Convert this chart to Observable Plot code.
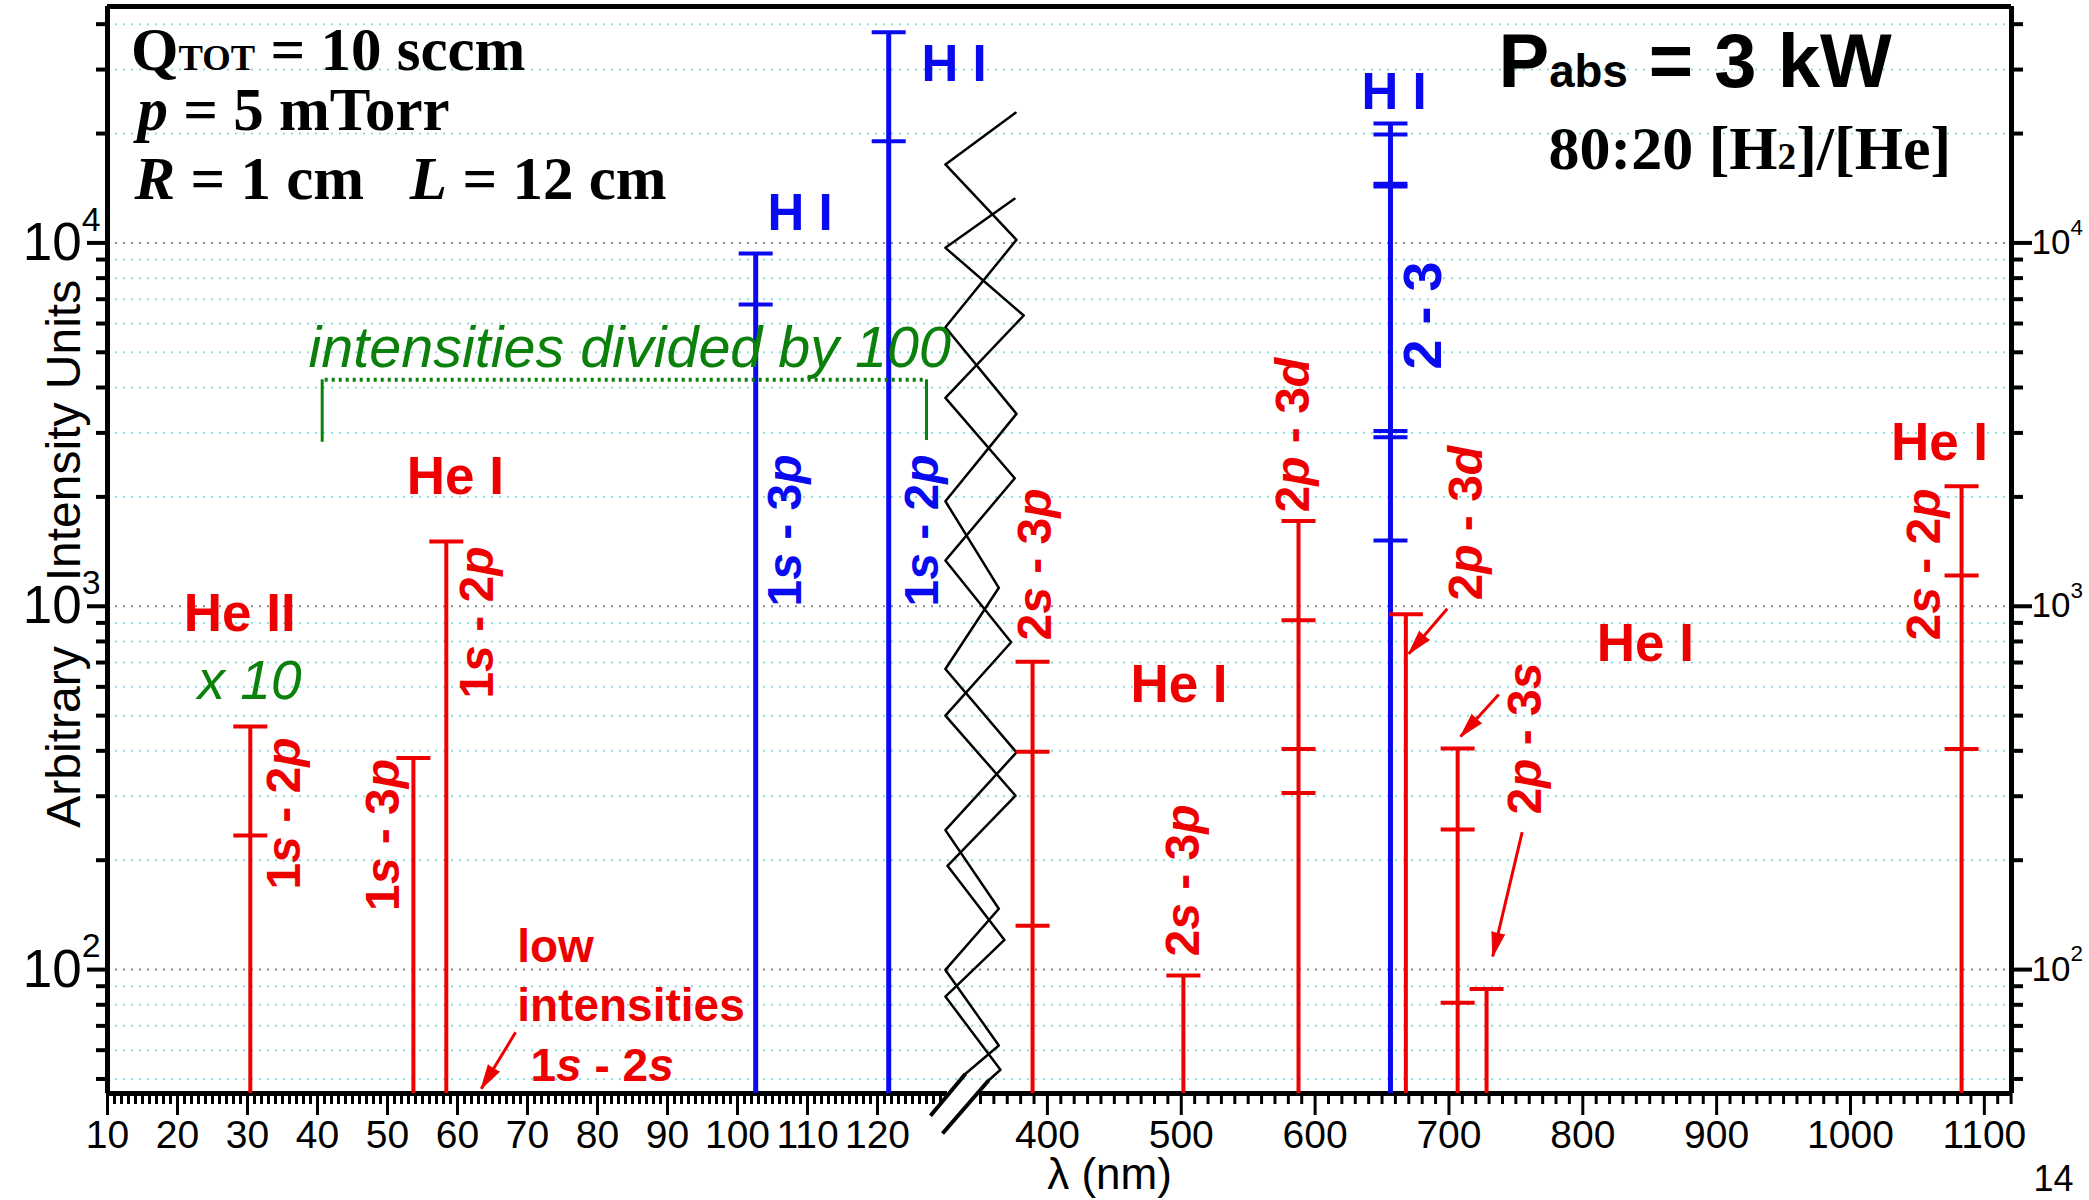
<!DOCTYPE html>
<html><head><meta charset="utf-8">
<script src="https://cdn.jsdelivr.net/npm/d3@7"></script>
<script src="https://cdn.jsdelivr.net/npm/@observablehq/plot@0.6"></script>
<style>html,body{margin:0;padding:0;background:#fff;} #chart svg{display:block}</style>
</head><body><div id="chart"></div>
<script>
// ---------- data ----------
const wavelengths = [30.4, 53.7, 58.4, 102.6, 121.6, 388.9, 501.6, 587.6, 656.3, 667.8, 706.5, 728.1, 1083.0];
const species     = ["He II","He I","He I","H I","H I","He I","He I","He I","H I","He I","He I","He I","He I"];
const intensities = [
  [467, 234],
  [382],
  [1507],
  [9350, 6770],
  [38000, 19040],
  [704, 398, 132],
  [96.3],
  [1716, 915, 405, 306],
  [21300, 19880, 14550, 14300, 3036, 2919, 1517],
  [950],
  [406, 243, 81],
  [88.4],
  [2140, 1215, 405]
];

const xMajorTicks = [10,20,30,40,50,60,70,80,90,100,110,120,400,500,600,700,800,900,1000,1100];
const yDecades = [100, 1000, 10000];
const yMinor = [50,60,70,80,90,200,300,400,500,600,700,800,900,2000,3000,4000,5000,6000,7000,8000,9000,20000,30000,40000];

const redSpeciesNotes = [
  {text: "He II", w: 28.9, v: 857},
  {text: "He I", w: 59.7, v: 2034},
  {text: "He I", w: 498.3, v: 545},
  {text: "He I", w: 846.8, v: 709},
  {text: "He I", w: 1066.5, v: 2534}
];
const blueSpeciesNotes = [
  {text: "H I", w: 104.3, v: 10840},
  {text: "H I", w: 126.3, v: 27900},
  {text: "H I", w: 634.6, v: 23300}
];
const redTransitionNotes = [
  {text: "1*s* - 2*p*", w: 37.57, v: 166},
  {text: "1*s* - 3*p*", w: 51.7, v: 145},
  {text: "1*s* - 2*p*", w: 65.06, v: 557},
  {text: "2*s* - 3*p*", w: 403, v: 805},
  {text: "2*s* - 3*p*", w: 513.2, v: 108.6},
  {text: "2*p* - 3*d*", w: 595.8, v: 1811},
  {text: "2*p* - 3*d*", w: 724.8, v: 1037},
  {text: "2*p* - 3*s*", w: 768.4, v: 267},
  {text: "2*s* - 2*p*", w: 1067.2, v: 805}
];
const blueTransitionNotes = [
  {text: "1*s* - 3*p*", w: 109.1, v: 998},
  {text: "1*s* - 2*p*", w: 128.7, v: 998}
];
const blueSeriesNote = [{text: "2 - 3", w: 694.2, v: 4482}];
const lowNotes = [
  {text: "low", w: 68.53, v: 104.7},
  {text: "intensities", w: 68.53, v: 72.4},
  {text: "1*s* - 2*s*", w: 70.43, v: 49.5}
];
const arrows = [
  {w1: 68.3, v1: 67.2, w2: 63.4, v2: 47.0},
  {w1: 698.7, v1: 984, w2: 670.0, v2: 740},
  {w1: 737.2, v1: 572, w2: 708.7, v2: 438},
  {w1: 754.7, v1: 239, w2: 732.7, v2: 108.7}
];
const conditionNotes = [
  {text: "Q~{TOT} = 10 sccm", w: 13.37, v: 30010},
  {text: "*p* = 5 mTorr", w: 14.29, v: 20390},
  {text: "*R* = 1 cm\u00a0\u00a0 *L* = 12 cm", w: 13.86, v: 13170}
];
const mixNote = [{text: "80:20 [H~{2}]/[He]", w: 774.4, v: 15990}];
const powerNote = [{text: "P~{abs} = 3 kW", w: 737, v: 26940}];
const factorNote = [{text: "x 10", w: 30.29, v: 557}];
const dividedNote = [{text: "intensities divided by 100", w: 38.71, v: 4548}];
const yTitleParts = [{text: "Arbitrary", v: 436.5}, {text: "Intensity Units", v: 3045}];
const bracketSpan = [{w1: 41.1, w2: 127.0, v: 4200}];
const bracketEnds = [{w: 40.67, v1: 2827, v2: 4200}, {w: 127.0, v1: 2858, v2: 4200}];
const zigzagA = {
  w: [376.2, 129.7, 376.9, 129.7, 376.9, 129.7, 363.7, 129.7, 376.9, 129.7, 363.7, 129.7, 363.7, 250],
  v: [22810, 16440, 10200, 5860, 3385, 1945, 1124, 672, 396, 242, 147, 99.8, 61.8, 51.7]
};
const zigzagB = {
  w: [375.4, 129.7, 382.3, 129.7, 375.6, 129.7, 372.9, 129.7, 376.2, 130.0, 367.9, 129.7, 364.9, 356],
  v: [13225, 9694, 6313, 3746, 2251, 1336, 796, 500, 301, 193, 120.7, 84.3, 53, 49.5]
};
const breakMarks = [
  {w1: 127.57, v1: 39.6, w2: 250, v2: 51.7},
  {w1: 129.29, v1: 35.4, w2: 356, v2: 49.5}
];

// ---------- scales & derived tables ----------
const yMin = 45.6, yMax = 44740, xMin = 10, xMax = 1120.3;
const xScale = {type: "linear", domain: [xMin, 130, 350, xMax], range: [107, 947, 980, 2011], label: null};
const yScale = {type: "log", domain: [yMin, yMax], range: [1093, 6], label: null};
const RED = "#ee0000", BLUE = "#0a0af0", GREEN = "#0b800b";
const specLines = wavelengths.map((w, i) => ({w, top: d3.max(intensities[i]), sp: species[i]}));
const levels = intensities.flatMap((ls, i) => ls.map(v => ({w: wavelengths[i], v, sp: species[i]})));
const isH = d => d.sp === "H I";
const zigA = zigzagA.w.map((w, i) => ({w, v: zigzagA.v[i]}));
const zigB = zigzagB.w.map((w, i) => ({w, v: zigzagB.v[i]}));
const hbar = {draw(ctx, size) { const r = Math.sqrt(size / Math.PI); ctx.moveTo(-r, 0); ctx.lineTo(r, 0); }};
const frameV = [{w: xMin}, {w: xMax}];
const bottomSegs = [{a: xMin, b: 130}, {a: 350, b: xMax}];
const minorLeft = d3.range(10, 130).filter(d => d % 10);
const minorRight = d3.range(350, 1121, 10).filter(d => d % 100);
const supLabel = d => `10^{${Math.round(Math.log10(d))}}`;
// arrowhead direction from the same scales
const sx = Plot.scale({x: xScale}), sy = Plot.scale({y: yScale});
const arrowHeads = arrows.map(a => {
  const dx = sx.apply(a.w2) - sx.apply(a.w1), dy = sy.apply(a.v2) - sy.apply(a.v1);
  return {...a, angle: Math.atan2(dx, -dy) * 180 / Math.PI};
});

const rotText = (data, color, size) => Plot.text(data, {x: "w", y: "v", text: "text", rotate: -90, textAnchor: "start", lineAnchor: "bottom", fill: color, fontSize: size, fontWeight: "bold"});
const SERIF = "'Liberation Serif', 'Times New Roman', serif";

const chart = Plot.plot({
  width: 2089, height: 1200,
  marginLeft: 107, marginRight: 78, marginTop: 6, marginBottom: 107,
  style: {fontFamily: "'Liberation Sans', Arial, sans-serif", background: "white", overflow: "visible"},
  x: xScale,
  y: yScale,
  marks: [
    Plot.gridY(yMinor, {stroke: "#88e0e0", strokeOpacity: 1, strokeWidth: 2, strokeDasharray: "2 6"}),
    Plot.gridY(yDecades, {stroke: "#8a8a8a", strokeOpacity: 1, strokeWidth: 2, strokeDasharray: "2 6"}),
    // axes ticks
    Plot.axisX({ticks: xMajorTicks, tickSize: 22, tickPadding: 5, strokeWidth: 3, fontSize: 39, tickFormat: d => String(d), label: null}),
    Plot.axisX({ticks: minorLeft, tickSize: 11, strokeWidth: 3, tickFormat: () => "", label: null}),
    Plot.axisX({ticks: minorRight, tickSize: 11, strokeWidth: 3, tickFormat: () => "", label: null}),
    Plot.axisY({anchor: "left", ticks: yDecades, tickSize: 20, strokeWidth: 4, tickFormat: () => "", label: null}),
    Plot.axisY({anchor: "left", ticks: yMinor, tickSize: 11, strokeWidth: 4, tickFormat: () => "", label: null}),
    Plot.axisY({anchor: "right", ticks: yDecades, tickSize: 20, strokeWidth: 4, tickFormat: () => "", label: null}),
    Plot.axisY({anchor: "right", ticks: yMinor, tickSize: 11, strokeWidth: 4, tickFormat: () => "", label: null}),
    Plot.text(yDecades, {y: d => d, text: supLabel, frameAnchor: "left", textAnchor: "end", dx: -7, fontSize: 53}),
    Plot.text(yDecades, {y: d => d, text: supLabel, frameAnchor: "right", textAnchor: "start", dx: 20, fontSize: 35}),
    // frame
    Plot.ruleX(frameV, {x: "w", y1: () => yMin, y2: () => yMax, strokeWidth: 5}),
    Plot.ruleY([{v: yMax}], {y: "v", x1: () => xMin, x2: () => xMax, strokeWidth: 5}),
    Plot.ruleY(bottomSegs, {y: () => yMin, x1: "a", x2: "b", strokeWidth: 5}),
    // axis break
    Plot.line(zigA, {x: "w", y: "v", stroke: "black", strokeWidth: 2.5}),
    Plot.line(zigB, {x: "w", y: "v", stroke: "black", strokeWidth: 2.5}),
    Plot.link(breakMarks, {x1: "w1", y1: "v1", x2: "w2", y2: "v2", stroke: "black", strokeWidth: 4}),
    // spectral lines
    Plot.ruleX(specLines.filter(d => !isH(d)), {x: "w", y1: () => yMin, y2: "top", stroke: RED, strokeWidth: 4}),
    Plot.ruleX(specLines.filter(isH), {x: "w", y1: () => yMin, y2: "top", stroke: BLUE, strokeWidth: 5}),
    Plot.dot(levels.filter(d => !isH(d)), {x: "w", y: "v", symbol: hbar, r: 17, stroke: RED, strokeWidth: 4, fill: "none"}),
    Plot.dot(levels.filter(isH), {x: "w", y: "v", symbol: hbar, r: 17, stroke: BLUE, strokeWidth: 4, fill: "none"}),
    // bracket
    Plot.ruleY(bracketSpan, {y: "v", x1: "w1", x2: "w2", stroke: GREEN, strokeWidth: 4, strokeDasharray: "3 4"}),
    Plot.ruleX(bracketEnds, {x: "w", y1: "v1", y2: "v2", stroke: GREEN, strokeWidth: 3}),
    // arrows
    Plot.link(arrows, {x1: "w1", y1: "v1", x2: "w2", y2: "v2", stroke: RED, strokeWidth: 3}),
    Plot.vector(arrowHeads, {x: "w2", y: "v2", rotate: "angle", length: 24, anchor: "end", shape: "spike", r: 6.5, fill: RED, stroke: RED, strokeWidth: 1}),
    // labels
    Plot.text(redSpeciesNotes, {x: "w", y: "v", text: "text", textAnchor: "middle", lineAnchor: "bottom", fill: RED, fontSize: 53, fontWeight: "bold"}),
    Plot.text(blueSpeciesNotes, {x: "w", y: "v", text: "text", textAnchor: "start", lineAnchor: "bottom", fill: BLUE, fontSize: 51, fontWeight: "bold"}),
    rotText(redTransitionNotes, RED, 48),
    rotText(blueTransitionNotes, BLUE, 48),
    rotText(blueSeriesNote, BLUE, 54),
    Plot.text(lowNotes, {x: "w", y: "v", text: "text", textAnchor: "start", lineAnchor: "bottom", fill: RED, fontSize: 46, fontWeight: "bold"}),
    Plot.text(factorNote, {x: "w", y: "v", text: "text", textAnchor: "middle", lineAnchor: "bottom", fill: GREEN, fontSize: 55, fontStyle: "italic"}),
    Plot.text(dividedNote, {x: "w", y: "v", text: "text", textAnchor: "start", lineAnchor: "bottom", fill: GREEN, fontSize: 57.5, fontStyle: "italic"}),
    Plot.text(conditionNotes, {x: "w", y: "v", text: "text", textAnchor: "start", lineAnchor: "bottom", fontFamily: SERIF, fontWeight: "bold", fontSize: 61}),
    Plot.text(mixNote, {x: "w", y: "v", text: "text", textAnchor: "start", lineAnchor: "bottom", fontFamily: SERIF, fontWeight: "bold", fontSize: 62}),
    Plot.text(powerNote, {x: "w", y: "v", text: "text", textAnchor: "start", lineAnchor: "bottom", fontWeight: "bold", fontSize: 76}),
    // axis titles
    Plot.text(yTitleParts, {y: "v", text: "text", frameAnchor: "left", dx: -28, rotate: -90, textAnchor: "middle", lineAnchor: "bottom", fontSize: 48}),
    Plot.text([{text: "\u03bb (nm)", w: 446.4}], {x: "w", text: "text", frameAnchor: "bottom", dy: 95, textAnchor: "middle", lineAnchor: "bottom", fontSize: 44}),
    Plot.text([{text: "14"}], {text: "text", frameAnchor: "bottom-right", dx: 62, dy: 97, textAnchor: "end", lineAnchor: "bottom", fontSize: 36})
  ]
});
document.getElementById("chart").appendChild(chart);

// rich text: ^{sup}, ~{small}, *italic*
function enrich(root) {
  const NS = "http://www.w3.org/2000/svg";
  for (const t of root.querySelectorAll("text")) {
    if (t.querySelector("tspan")) continue;
    const s = t.textContent;
    if (!/\^\{|~\{|\*/.test(s)) continue;
    const fs = parseFloat(getComputedStyle(t).fontSize) || 40;
    t.textContent = "";
    const re = /\^\{([^}]*)\}|~\{([^}]*)\}|\*([^*]+)\*|([^*^~]+)/g;
    let m, shift = 0;
    while ((m = re.exec(s))) {
      const ts = document.createElementNS(NS, "tspan");
      let dy = 0;
      if (m[1] !== undefined) { ts.textContent = m[1]; ts.setAttribute("font-size", (fs * 0.64).toFixed(1)); dy = -0.55 * fs; }
      else if (m[2] !== undefined) { ts.textContent = m[2]; ts.setAttribute("font-size", (fs * 0.6).toFixed(1)); }
      else if (m[3] !== undefined) { ts.textContent = m[3]; ts.setAttribute("font-style", "italic"); }
      else ts.textContent = m[4];
      const d = dy - shift;
      if (d) ts.setAttribute("dy", d.toFixed(1));
      shift = dy;
      t.appendChild(ts);
    }
  }
}
enrich(chart);
</script></body></html>
